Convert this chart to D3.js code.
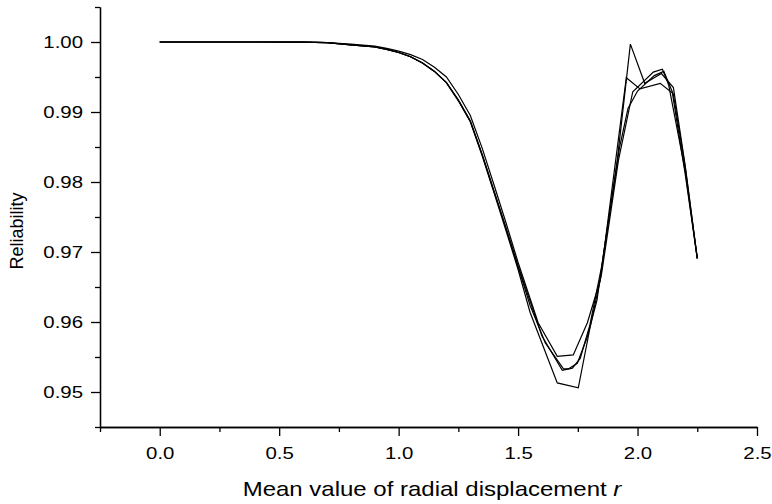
<!DOCTYPE html>
<html>
<head>
<meta charset="utf-8">
<script src="https://cdn.jsdelivr.net/npm/d3@7"></script>
<style>
  body { margin: 0; background: #fff; }
  svg { display: block; font-family: "Liberation Sans", Arial, sans-serif; }
</style>
</head>
<body>
<div id="chart"></div>
<script>
const width = 772;
const height = 504;

// curve A: widest on the way down, flat bottom in the dip
const rA = [0, 0.2, 0.4, 0.6, 0.7, 0.8, 0.9, 0.95, 1.0, 1.05, 1.1, 1.15, 1.2, 1.25, 1.3, 1.35, 1.4, 1.45, 1.5, 1.584, 1.664, 1.731, 1.79, 1.844, 1.953, 2.01, 2.095, 2.146, 2.2, 2.25];
const relA = [1.0, 1.0, 1.0, 0.99998, 0.9999, 0.9997, 0.9994, 0.9991, 0.9987, 0.9982, 0.9975, 0.9964, 0.995, 0.9925, 0.9895, 0.9848, 0.9795, 0.9741, 0.9685, 0.9599, 0.9551, 0.9553, 0.9599, 0.966, 0.9949, 0.9933, 0.9941, 0.9927, 0.981, 0.9691];

// curve B: the tall spike near r = 2
const rB = [0, 0.2, 0.4, 0.6, 0.7, 0.8, 0.9, 0.95, 1.0, 1.05, 1.1, 1.15, 1.2, 1.25, 1.3, 1.35, 1.4, 1.45, 1.5, 1.55, 1.614, 1.69, 1.71, 1.748, 1.79, 1.83, 1.915, 1.97, 2.03, 2.1, 2.15, 2.2, 2.25];
const relB = [1.0, 1.0, 1.0, 0.99998, 0.9999, 0.9996, 0.9993, 0.99895, 0.9985, 0.9979, 0.997, 0.9958, 0.9942, 0.9917, 0.9887, 0.9839, 0.9786, 0.9733, 0.9679, 0.9624, 0.957, 0.9533, 0.9533, 0.9541, 0.9579, 0.9631, 0.9831, 0.9997, 0.9941, 0.9955, 0.9935, 0.9822, 0.9691];

// curve C: lowest in the dip
const rC = [0, 0.2, 0.4, 0.6, 0.7, 0.8, 0.9, 0.95, 1.0, 1.05, 1.1, 1.15, 1.2, 1.25, 1.3, 1.35, 1.4, 1.45, 1.5, 1.55, 1.664, 1.752, 1.8, 1.85, 1.92, 1.98, 2.066, 2.104, 2.13, 2.2, 2.25];
const relC = [1.0, 1.0, 1.0, 0.99998, 0.9999, 0.9996, 0.9993, 0.99895, 0.9985, 0.9979, 0.997, 0.9958, 0.9942, 0.9916, 0.9886, 0.9837, 0.9784, 0.973, 0.9675, 0.9614, 0.9513, 0.9506, 0.959, 0.967, 0.9831, 0.9929, 0.9957, 0.9961, 0.9939, 0.9815, 0.9691];

// curve D: runs with B through the dip
const rD = [0, 0.2, 0.4, 0.6, 0.7, 0.8, 0.9, 0.95, 1.0, 1.05, 1.1, 1.15, 1.2, 1.25, 1.3, 1.35, 1.4, 1.45, 1.5, 1.6, 1.685, 1.727, 1.76, 1.8, 1.85, 1.925, 1.96, 2.0, 2.07, 2.11, 2.15, 2.2, 2.25];
const relD = [1.0, 1.0, 1.0, 0.99998, 0.9999, 0.9996, 0.9993, 0.99895, 0.9985, 0.9979, 0.997, 0.9958, 0.9942, 0.9917, 0.9887, 0.9839, 0.9786, 0.9734, 0.968, 0.958, 0.9531, 0.9534, 0.9548, 0.9595, 0.968, 0.985, 0.9905, 0.993, 0.9952, 0.9958, 0.9925, 0.982, 0.9691];

const xMajor = [0, 0.5, 1.0, 1.5, 2.0, 2.5];
const xMinor = [-0.25, 0.25, 0.75, 1.25, 1.75, 2.25];
const yMajor = [0.95, 0.96, 0.97, 0.98, 0.99, 1.0];
const yMinor = [0.945, 0.955, 0.965, 0.975, 0.985, 0.995, 1.005];

const series = [
    { r: rA, rel: relA },
    { r: rB, rel: relB },
    { r: rC, rel: relC },
    { r: rD, rel: relD },
];

const plot = { left: 100, right: 757, top: 7, bottom: 427 };
const stretch = 1.2; // the figure text is a bit wide

const x = d3.scaleLinear().domain([-0.25, 2.5]).range([plot.left, plot.right]);
const y = d3.scaleLinear().domain([0.945, 1.005]).range([plot.bottom, plot.top]);

const svg = d3.select("#chart")
    .append("svg")
    .attr("width", width)
    .attr("height", height);

// minor ticks first, majors on top
svg.append("g")
    .attr("transform", `translate(0,${plot.bottom})`)
    .call(d3.axisBottom(x).tickValues(xMinor).tickSize(5).tickSizeOuter(0).tickFormat(""));

svg.append("g")
    .attr("transform", `translate(${plot.left},0)`)
    .call(d3.axisLeft(y).tickValues(yMinor).tickSize(5).tickSizeOuter(0).tickFormat(""));

const xAxis = svg.append("g")
    .attr("transform", `translate(0,${plot.bottom})`)
    .call(d3.axisBottom(x).tickValues(xMajor).tickSize(9).tickSizeOuter(0).tickPadding(11).tickFormat(d3.format(".1f")));

const yAxis = svg.append("g")
    .attr("transform", `translate(${plot.left},0)`)
    .call(d3.axisLeft(y).tickValues(yMajor).tickSize(9).tickSizeOuter(0).tickFormat(d3.format(".2f")));

svg.selectAll(".domain, .tick line")
    .attr("stroke", "#000")
    .attr("stroke-width", 1.3);

xAxis.selectAll("text")
    .attr("font-size", 17)
    .attr("fill", "#000")
    .attr("transform", `scale(${stretch},1)`);

yAxis.selectAll("text")
    .attr("font-size", 17)
    .attr("fill", "#000")
    .attr("x", -17 / stretch)
    .attr("transform", `scale(${stretch},1)`);

const line = d3.line()
    .x((d) => x(d[0]))
    .y((d) => y(d[1]));

svg.selectAll(".curve")
    .data(series)
    .join("path")
    .attr("class", "curve")
    .attr("fill", "none")
    .attr("stroke", "#000")
    .attr("stroke-width", 1.2)
    .attr("d", (s) => line(s.r.map((v, i) => [v, s.rel[i]])));

// axis titles
const xTitle = svg.append("text")
    .attr("transform", `translate(432,496) scale(${stretch},1)`)
    .attr("text-anchor", "middle")
    .attr("font-size", 20)
    .attr("fill", "#000");
xTitle.append("tspan").text("Mean value of radial displacement ");
xTitle.append("tspan").attr("font-style", "italic").text("r");

svg.append("text")
    .attr("transform", `translate(23,231) rotate(-90)`)
    .attr("text-anchor", "middle")
    .attr("font-size", 18)
    .attr("fill", "#000")
    .text("Reliability");
</script>
</body>
</html>
